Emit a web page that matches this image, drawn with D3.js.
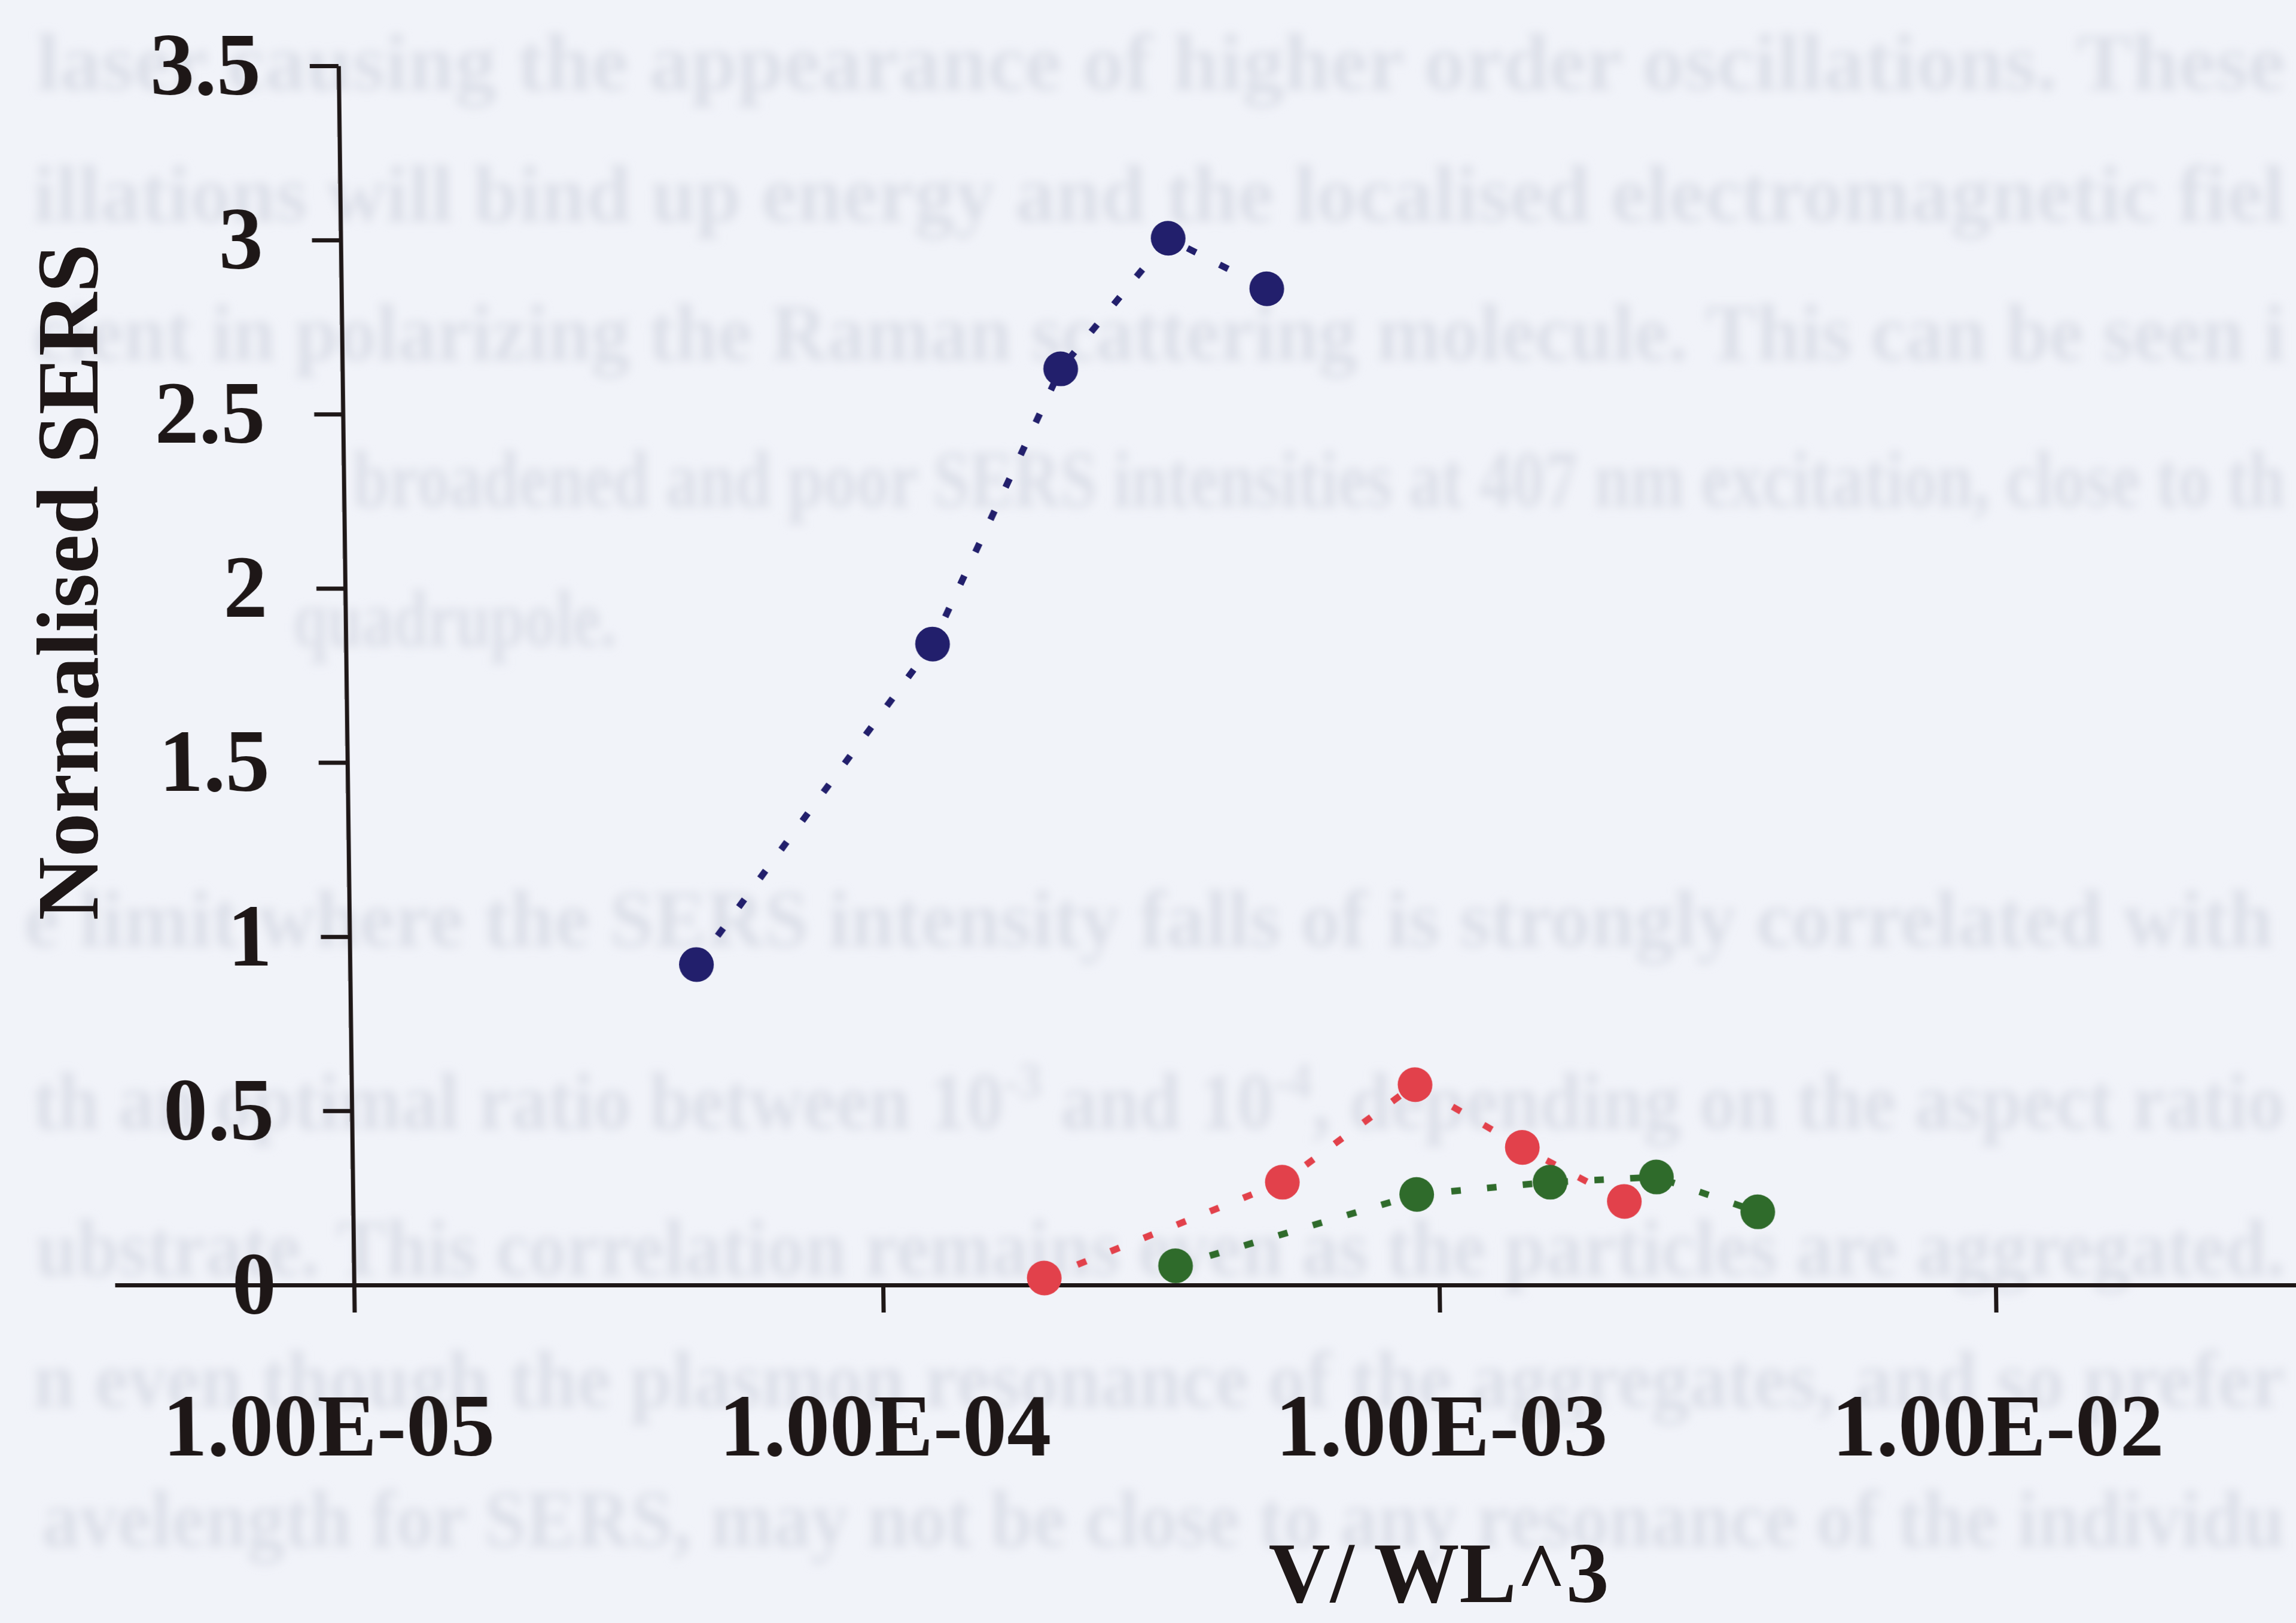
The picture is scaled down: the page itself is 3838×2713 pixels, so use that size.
<!DOCTYPE html>
<html>
<head>
<meta charset="utf-8">
<script src="https://cdn.jsdelivr.net/npm/d3@7"></script>
<style>
  html, body { margin: 0; padding: 0; background: #f1f3f9; overflow: hidden; }
  svg { display: block; }
</style>
</head>
<body>
<script>
// ---- data ----
const xBlue  = [4.7e-5, 1.27e-4, 2.19e-4, 3.44e-4, 5.16e-4];
const yBlue  = [0.92, 1.84, 2.63, 3.005, 2.86];
const xRed   = [1.95e-4, 5.25e-4, 9.14e-4, 1.42e-3, 2.16e-3];
const yRed   = [0.02, 0.295, 0.575, 0.395, 0.24];
const xGreen = [3.36e-4, 9.15e-4, 1.59e-3, 2.47e-3, 3.75e-3];
const yGreen = [0.055, 0.26, 0.295, 0.31, 0.21];

const xTickValues = [1e-5, 1e-4, 1e-3, 1e-2];
const xTickLabels = ["1.00E-05", "1.00E-04", "1.00E-03", "1.00E-02"];
const yTickValues = [0, 0.5, 1, 1.5, 2, 2.5, 3, 3.5];
const yTickLabels = ["0", "0.5", "1", "1.5", "2", "2.5", "3", "3.5"];
const xTitle = "V/ WL^3";
const yTitle = "Normalised SERS";
const yAxisCross = 1.12e-5;   // value where the vertical axis meets the horizontal one

// faint body text lying behind the chart
const bodyLines = [
  "laser causing the appearance of higher order oscillations. These",
  "illations will bind up energy and the localised electromagnetic fiel",
  "cient in polarizing the Raman scattering molecule. This can be seen i",
  "broadened and poor SERS intensities at 407 nm excitation, close to th",
  "quadrupole.",
  "e limit where the SERS intensity falls of is strongly correlated with",
  null,
  "ubstrate. This correlation remains even as the particles are aggregated.",
  "n even though the plasmon resonance of the aggregates, and so prefer",
  "avelength for SERS, may not be close to any resonance of the individu"
];
// layout of those lines: [start x, end x, baseline]
const bodyLayout = [
  [61, 3820, 150], [55, 3820, 370], [55, 3820, 602], [590, 3820, 847], [490, 1030, 1080],
  [40, 3800, 1582], [55, 3820, 1887], [60, 3820, 2132], [55, 3820, 2352], [70, 3820, 2585]
];

// ---- layout ----
const W = 3838, H = 2713;
const baseY = 2148;
const font = "'Liberation Serif', 'Times New Roman', serif";
const ink = "#1e1717";

const svg = d3.select("body").append("svg")
  .attr("width", W).attr("height", H)
  .attr("viewBox", `0 0 ${W} ${H}`);

const defs = svg.append("defs");
defs.append("filter").attr("id", "soft")
  .attr("x", "-5%").attr("y", "-20%").attr("width", "110%").attr("height", "140%")
  .append("feGaussianBlur").attr("stdDeviation", 8);

svg.append("rect").attr("width", W).attr("height", H).attr("fill", "#f1f3f9");

// background text, each line squeezed horizontally to fill its span
const bg = svg.append("g")
  .attr("filter", "url(#soft)")
  .attr("font-family", font)
  .attr("font-size", 136)
  .attr("font-weight", "bold")
  .attr("fill", "#dcdfe8");

bodyLines.forEach((t, i) => {
  const [x0, x1, by] = bodyLayout[i];
  const txt = bg.append("text").attr("x", 0).attr("y", 0);
  if (t === null) {
    txt.append("tspan").text("th an optimal ratio between 10");
    txt.append("tspan").attr("dy", -52).attr("font-size", 84).text("-3");
    txt.append("tspan").attr("dy", 52).text(" and 10");
    txt.append("tspan").attr("dy", -52).attr("font-size", 84).text("-4");
    txt.append("tspan").attr("dy", 52).text(", depending on the aspect ratio");
  } else {
    txt.text(t);
  }
  const w = txt.node().getComputedTextLength();
  txt.attr("transform", `translate(${x0},${by}) scale(${(x1 - x0) / w},1)`);
});

// ---- scales ----
const x = d3.scaleLog().domain([1e-5, 1e-2]).range([546, 3336]);
const y = d3.scaleLinear().domain([0, 3.5]).range([baseY, 110]);
const xAxisScale = x.copy().domain([x.invert(192), x.invert(W + 10)]).range([192, W + 10]);

// the plot is slightly sheared: the vertical axis leans left towards the top
const shear = Math.atan(26 / 2038) * 180 / Math.PI;
const plot = svg.append("g")
  .attr("transform", `translate(0,${baseY}) skewX(${shear}) translate(0,${-baseY})`);

// x axis line with ticks
const gx = plot.append("g")
  .attr("transform", `translate(0,${baseY})`)
  .call(d3.axisBottom(xAxisScale)
    .tickValues([yAxisCross, 1e-4, 1e-3, 1e-2])
    .tickSizeInner(46).tickSizeOuter(0)
    .tickFormat(""));
gx.select(".domain").attr("stroke", ink).attr("stroke-width", 7);
gx.selectAll(".tick line").attr("stroke", ink).attr("stroke-width", 7);

// x tick labels
const gxl = plot.append("g")
  .attr("transform", `translate(0,${baseY})`)
  .call(d3.axisBottom(x)
    .tickValues(xTickValues)
    .tickSize(0).tickPadding(180)
    .tickFormat((d, i) => xTickLabels[i]));
gxl.select(".domain").remove();
gxl.selectAll("text")
  .attr("font-family", font).attr("font-size", 148).attr("font-weight", "bold")
  .attr("fill", ink);

// y axis
const gy = plot.append("g")
  .attr("transform", `translate(${x(yAxisCross)},0)`)
  .call(d3.axisLeft(y)
    .tickValues(yTickValues)
    .tickSizeInner(48).tickSizeOuter(0).tickPadding(82)
    .tickFormat((d, i) => yTickLabels[i]));
gy.select(".domain").attr("stroke", ink).attr("stroke-width", 7);
gy.selectAll(".tick line").attr("stroke", ink).attr("stroke-width", 7);
gy.selectAll("text")
  .attr("font-family", font).attr("font-size", 148).attr("font-weight", "bold")
  .attr("fill", ink);

// ---- series ----
const series = [
  { xs: xBlue,  ys: yBlue,  color: "#221f6c" },
  { xs: xRed,   ys: yRed,   color: "#e2414b" },
  { xs: xGreen, ys: yGreen, color: "#2f6b2b" }
];

const line = d3.line().x(d => x(d[0])).y(d => y(d[1]));

series.forEach(s => {
  const pts = s.xs.map((v, i) => [v, s.ys[i]]);
  plot.append("path")
    .datum(pts)
    .attr("d", line)
    .attr("fill", "none")
    .attr("stroke", s.color)
    .attr("stroke-width", 11)
    .attr("stroke-dasharray", "16 44");
  plot.append("g").selectAll("circle")
    .data(pts)
    .join("circle")
    .attr("cx", d => x(d[0]))
    .attr("cy", d => y(d[1]))
    .attr("r", 29)
    .attr("fill", s.color);
});

// ---- titles ----
svg.append("text")
  .attr("transform", `translate(163,973) rotate(-90)`)
  .attr("text-anchor", "middle")
  .attr("font-family", font).attr("font-size", 147).attr("font-weight", "bold")
  .attr("fill", ink)
  .text(yTitle);

svg.append("text")
  .attr("x", 2405).attr("y", 2678)
  .attr("text-anchor", "middle")
  .attr("font-family", font).attr("font-size", 143).attr("font-weight", "bold")
  .attr("fill", ink)
  .text(xTitle);
</script>
</body>
</html>
